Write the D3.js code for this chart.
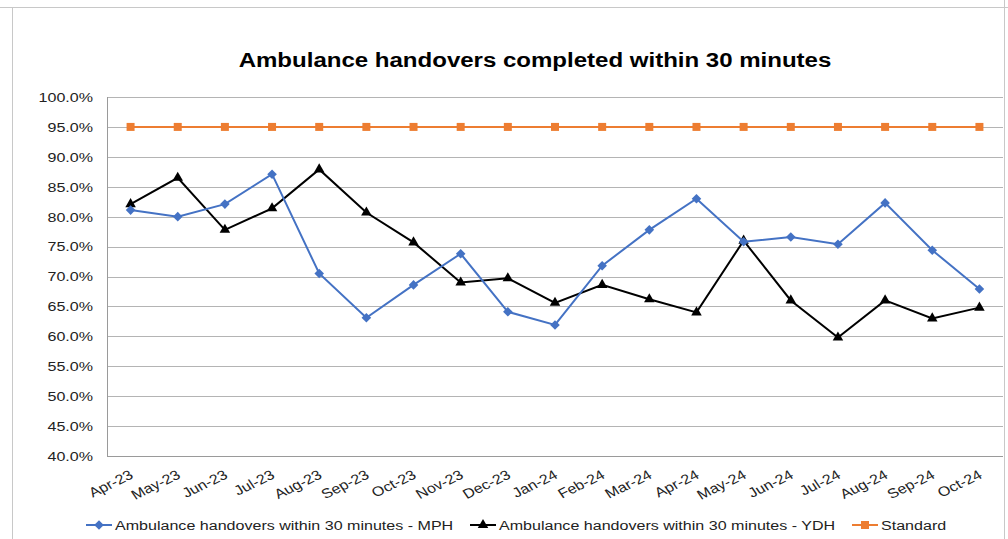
<!DOCTYPE html>
<html>
<head>
<meta charset="utf-8">
<script src="https://cdn.jsdelivr.net/npm/d3@7"></script>
<style>
  body { margin: 0; background: #fff; }
  text { font-family: 'Liberation Sans', Arial, sans-serif; }
</style>
</head>
<body>
<div class="chart"></div>
<script>
// data
const months = ['Apr-23', 'May-23', 'Jun-23', 'Jul-23', 'Aug-23', 'Sep-23', 'Oct-23', 'Nov-23', 'Dec-23',
  'Jan-24', 'Feb-24', 'Mar-24', 'Apr-24', 'May-24', 'Jun-24', 'Jul-24', 'Aug-24', 'Sep-24', 'Oct-24']
const mph = [81.1, 80.0, 82.1, 87.1, 70.5, 63.1, 68.6, 73.8, 64.1, 61.9, 71.8, 77.8, 83.0, 75.8, 76.6, 75.4, 82.3, 74.4, 67.9]
const ydh = [82.1, 86.5, 77.8, 81.4, 87.9, 80.7, 75.7, 69.0, 69.7, 65.6, 68.6, 66.2, 64.0, 76.0, 66.0, 59.8, 66.0, 63.0, 64.8]
const standard = [95, 95, 95, 95, 95, 95, 95, 95, 95, 95, 95, 95, 95, 95, 95, 95, 95, 95, 95]
const yTicks = [40, 45, 50, 55, 60, 65, 70, 75, 80, 85, 90, 95, 100]
const seriesNames = ['Ambulance handovers within 30 minutes - MPH', 'Ambulance handovers within 30 minutes - YDH', 'Standard']

const W = 1008, H = 539
const SX = 1.19 // reference text is stretched sideways

const svg = d3.select('.chart')
  .append('svg')
  .attr('width', W)
  .attr('height', H)

// chart frame
svg.append('line').attr('x1', 0).attr('x2', W).attr('y1', 7.5).attr('y2', 7.5).attr('stroke', '#c8c8c8')
svg.append('line').attr('x1', 12.5).attr('x2', 12.5).attr('y1', 7).attr('y2', H).attr('stroke', '#c8c8c8')
svg.append('line').attr('x1', 1004.5).attr('x2', 1004.5).attr('y1', 0).attr('y2', H).attr('stroke', '#c8c8c8')

const margin = { top: 97, left: 107, right: 1003, bottom: 456 }

const x = d3.scaleBand()
  .domain(months)
  .range([margin.left, margin.right])

const y = d3.scaleLinear()
  .domain([40, 100])
  .range([margin.bottom, margin.top])

// gridlines
svg.append('g')
  .selectAll('line')
  .data(yTicks)
  .enter()
  .append('line')
  .attr('x1', margin.left)
  .attr('x2', margin.right)
  .attr('y1', d => Math.round(y(d)) + 0.5)
  .attr('y2', d => Math.round(y(d)) + 0.5)
  .attr('stroke', d => d === 40 ? '#9a9a9a' : '#b4b4b4')
  .attr('stroke-width', 1)

// left axis line
svg.append('line')
  .attr('x1', margin.left + 0.5).attr('x2', margin.left + 0.5)
  .attr('y1', margin.top).attr('y2', margin.bottom + 0.5)
  .attr('stroke', '#9a9a9a')

// y labels
svg.append('g')
  .selectAll('text')
  .data(yTicks)
  .enter()
  .append('text')
  .attr('transform', d => `translate(93, ${y(d)}) scale(${SX},1)`)
  .attr('dy', '0.36em')
  .attr('text-anchor', 'end')
  .attr('font-size', 13.5)
  .attr('fill', '#222')
  .text(d => d.toFixed(1) + '%')

// x labels
const cx = d => x(d) + x.bandwidth() / 2
svg.append('g')
  .selectAll('text')
  .data(months)
  .enter()
  .append('text')
  .attr('transform', d => `translate(${cx(d) - 2}, 469) scale(${SX},1) rotate(-30)`)
  .attr('dy', '0.72em')
  .attr('text-anchor', 'end')
  .attr('font-size', 13.5)
  .attr('fill', '#222')
  .text(d => d)

// title
svg.append('text')
  .attr('transform', `translate(535, 67) scale(${SX},1)`)
  .attr('text-anchor', 'middle')
  .attr('font-size', 20.2)
  .attr('font-weight', 'bold')
  .attr('fill', '#000')
  .text('Ambulance handovers completed within 30 minutes')

const line = d3.line()
  .x((d, i) => cx(months[i]))
  .y(d => y(d))

const triangle = d3.symbol().type(d3.symbolTriangle).size(48)
const square = d3.symbol().type(d3.symbolSquare).size(64)

const series = [
  { values: mph, color: '#4472C4', shape: d3.symbol().type(d3.symbolSquare).size(46), rot: 45 },
  { values: ydh, color: '#000000', shape: triangle, rot: 0 },
  { values: standard, color: '#ED7D31', shape: square, rot: 0 }
]

// draw standard first, then YDH, then MPH on top
const order = [2, 1, 0]
order.forEach(k => {
  const s = series[k]
  svg.append('path')
    .datum(s.values)
    .attr('d', line)
    .attr('fill', 'none')
    .attr('stroke', s.color)
    .attr('stroke-width', 2)

  svg.append('g')
    .selectAll('path')
    .data(s.values)
    .enter()
    .append('path')
    .attr('d', s.shape)
    .attr('transform', (d, i) => `translate(${cx(months[i])}, ${y(d)}) rotate(${s.rot})`)
    .attr('fill', s.color)
})

// legend
const legendX = [86, 470, 852]
const legend = svg.append('g')
seriesNames.forEach((name, k) => {
  const s = series[k]
  const lx = legendX[k]
  legend.append('line')
    .attr('x1', lx).attr('x2', lx + 26)
    .attr('y1', 525).attr('y2', 525)
    .attr('stroke', s.color)
    .attr('stroke-width', 2)
  legend.append('path')
    .attr('d', s.shape)
    .attr('transform', `translate(${lx + 13}, 525) rotate(${s.rot})`)
    .attr('fill', s.color)
  legend.append('text')
    .attr('transform', `translate(${lx + 29}, 529.5) scale(${SX},1)`)
    .attr('font-size', 13.5)
    .attr('fill', '#222')
    .text(name)
})
</script>
</body>
</html>
